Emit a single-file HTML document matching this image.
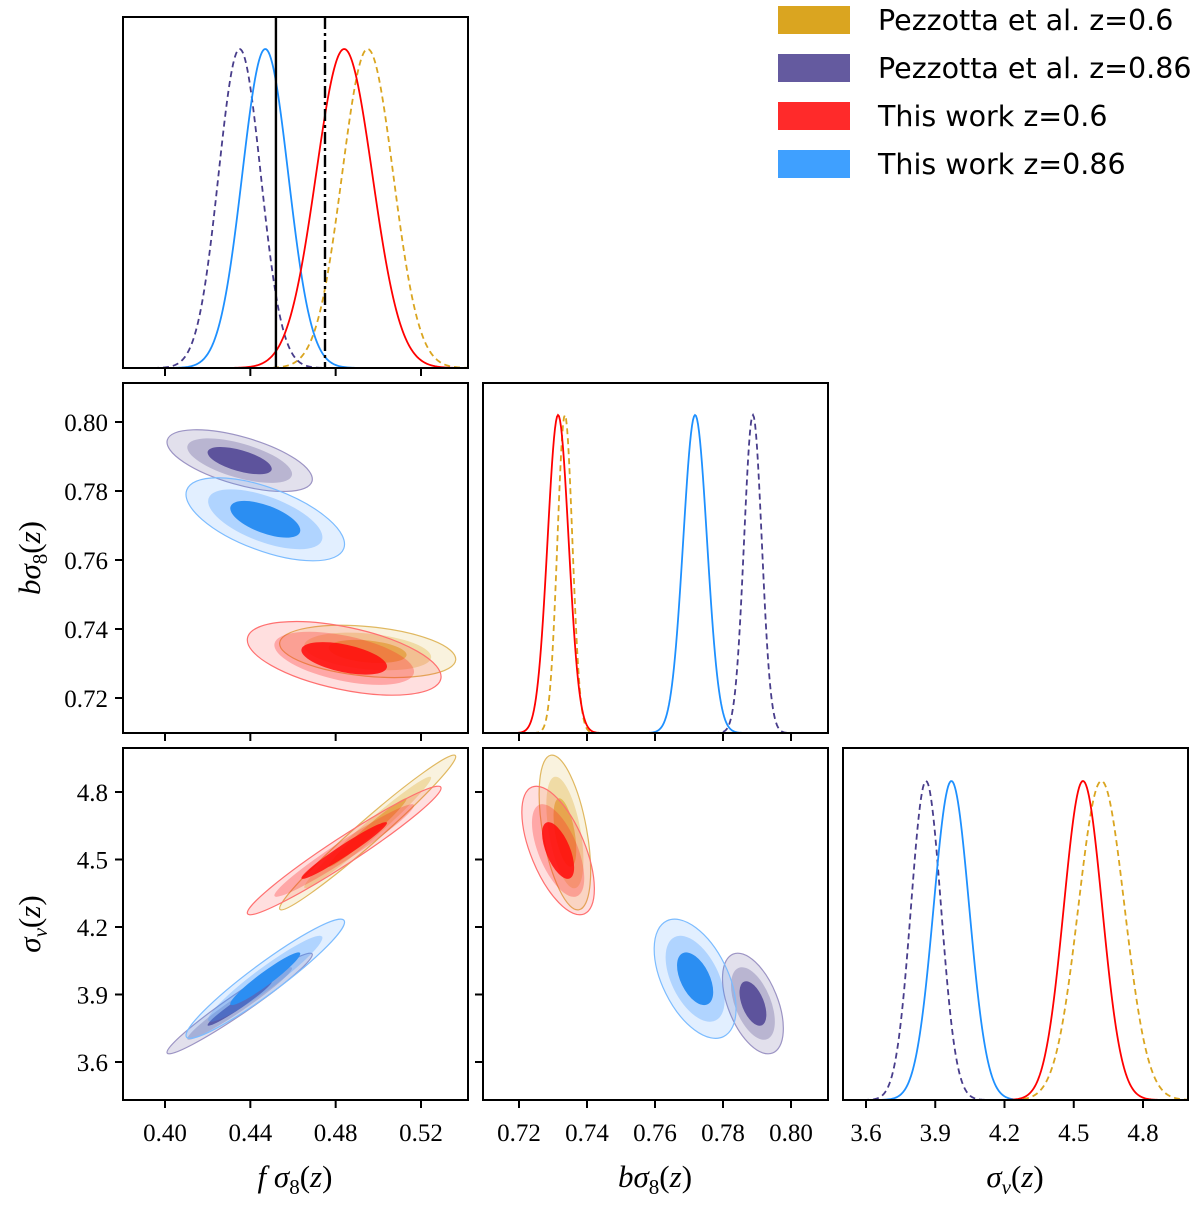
<!DOCTYPE html>
<html><head><meta charset="utf-8">
<style>
html,body{margin:0;padding:0;background:#fff;}
svg text{font-family:"Liberation Serif",serif;}
</style></head>
<body>
<svg id="fig" width="1200" height="1203" viewBox="0 0 1200 1203" xmlns="http://www.w3.org/2000/svg">
<defs>
<clipPath id="cTL"><rect x="123" y="17" width="345" height="351"/></clipPath>
<clipPath id="cML"><rect x="123" y="383" width="345" height="350"/></clipPath>
<clipPath id="cMM"><rect x="483" y="383" width="345" height="350"/></clipPath>
<clipPath id="cBL"><rect x="123" y="748" width="345" height="352"/></clipPath>
<clipPath id="cBM"><rect x="483" y="748" width="345" height="352"/></clipPath>
<clipPath id="cBR"><rect x="843" y="748" width="345" height="352"/></clipPath>
</defs>
<g id="marks"></g>
<g id="frames"></g>
<g id="legend">
  <rect x="778" y="6" width="72" height="28" fill="#DAA520"/>
  <text x="878" y="30" font-size="28.5" style="font-family:'DejaVu Sans',sans-serif">Pezzotta et al. z=0.6</text>
  <rect x="778" y="54" width="72" height="28" fill="#645a9f"/>
  <text x="878" y="78" font-size="28.5" style="font-family:'DejaVu Sans',sans-serif">Pezzotta et al. z=0.86</text>
  <rect x="778" y="102" width="72" height="28" fill="#ff2a2a"/>
  <text x="878" y="126" font-size="28.5" style="font-family:'DejaVu Sans',sans-serif">This work z=0.6</text>
  <rect x="778" y="150" width="72" height="28" fill="#3fa0ff"/>
  <text x="878" y="174" font-size="28.5" style="font-family:'DejaVu Sans',sans-serif">This work z=0.86</text>
</g>
</svg>
<script>
// ---- data ----
const seriesNames = ["pezzotta-z06","pezzotta-z086","this-work-z086","this-work-z06"];
const meanF  = [0.495, 0.435, 0.447, 0.484];
const meanB  = [0.7335, 0.7888, 0.7718, 0.7315];
const meanV  = [4.62, 3.86, 3.97, 4.54];
const sigF   = [0.012, 0.0099, 0.0108, 0.0132];
const sigB   = [0.0022, 0.0026, 0.0035, 0.0031];
const sigV   = [0.10, 0.065, 0.077, 0.083];
const rhoFB  = [-0.3, -0.6, -0.6, -0.5];
const rhoFV  = [0.98, 0.97, 0.95, 0.97];
const rhoBV  = [-0.5, -0.5, -0.5, -0.6];
const refLineSolid = 0.452;
const refLineDashDot = 0.475;
const ticksF = [0.40,0.44,0.48,0.52];
const ticksB = [0.72,0.74,0.76,0.78,0.80];
const ticksV = [3.6,3.9,4.2,4.5,4.8];

const lineColor = ["#DAA520","#483D8B","#1E90FF","#FF0000"];
const dashes = ["6,4","6,4",null,null];
const fills = [
  ["rgba(218,165,32,0.15)","rgba(218,165,32,0.3)","rgba(218,165,32,0.6)"],
  ["rgba(110,100,160,0.2)","rgba(110,100,160,0.35)","#5d539c"],
  ["rgba(60,150,255,0.15)","rgba(60,150,255,0.3)","#2b8ef2"],
  ["rgba(255,40,40,0.15)","rgba(255,40,40,0.3)","rgba(255,10,10,0.85)"]
];
const strokes = ["#e0b860","#9c94c4","#7cbcff","#ff7070"];

// ---- axes ----
const xF = v => 165 + (v-0.40)*(421-165)/0.12;
const xB = v => 519 + (v-0.72)*(791-519)/0.08;
const yB = v => 422 + (0.80-v)*(698-422)/0.08;
const xV = v => 866 + (v-3.6)*(1143-866)/1.2;
const yV = v => 792 + (4.8-v)*(1062-792)/1.2;

const NS="http://www.w3.org/2000/svg";
const marks=document.getElementById('marks');
const frames=document.getElementById('frames');
function mk(tag,attrs,parent){const e=document.createElementNS(NS,tag);for(const k in attrs)e.setAttribute(k,attrs[k]);(parent||marks).appendChild(e);return e;}

function inv(f,a,b){return px=>a+(px-f(a))*(b-a)/(f(b)-f(a));}
xF.inv=inv(xF,0.40,0.52); xB.inv=inv(xB,0.72,0.80); xV.inv=inv(xV,3.6,4.8);

function panel1D(clip,xs,means,sigs,x0,x1,yBase,yPeak,name){
  const g=mk('g',{'clip-path':'url(#'+clip+')'});
  
  
  [0,1,2,3].forEach(i=>{
    let d='';
    for(let px=x0;px<=x1;px+=1){
      const v = xs.inv(px);
      const y = yBase-(yBase-yPeak)*Math.exp(-0.5*Math.pow((v-means[i])/sigs[i],2));
      d+=(d?'L':'M')+px+','+y.toFixed(2);
    }
    const p=mk('path',{d:d,fill:'none',stroke:lineColor[i],'stroke-width':1.8},g);
    if(dashes[i])p.setAttribute('stroke-dasharray',dashes[i]);
    
    
  });
  return g;
}

const gTL=panel1D('cTL',xF,meanF,sigF,123,468,368,49,'fsigma8-pdf-panel');
const gMM=panel1D('cMM',xB,meanB,sigB,483,828,733,415,'bsigma8-pdf-panel');
const gBR=panel1D('cBR',xV,meanV,sigV,843,1188,1100,781,'sigmav-pdf-panel');

const ls=mk('line',{x1:xF(refLineSolid),x2:xF(refLineSolid),y1:17,y2:368,stroke:'#000','stroke-width':2.4},gTL);


const ld=mk('line',{x1:xF(refLineDashDot),x2:xF(refLineDashDot),y1:17,y2:368,stroke:'#000','stroke-width':2.4,'stroke-dasharray':'12,4,3,4'},gTL);



const levels=[3.44,2.48,1.52];
function panel2D(clip,xs,ys,mx,my,sx,sy,rho,name){
  const g=mk('g',{'clip-path':'url(#'+clip+')'});
  
  
  [0,1,2,3].forEach(i=>{
    const cx=xs(mx[i]), cy=ys(my[i]);
    const spx=Math.abs(xs(mx[i]+sx[i])-cx), spy=Math.abs(ys(my[i]+sy[i])-cy);
    const r=-rho[i];
    const a=spx*spx, c=spy*spy, b=r*spx*spy;
    const tr=(a+c)/2, df=Math.sqrt(((a-c)/2)**2+b*b);
    const l1=tr+df, l2=tr-df;
    const angle = (b===0)?(a>=c?0:90):Math.atan2(l1-a,b)*180/Math.PI;
    levels.forEach((k,j)=>{
      const e=mk('ellipse',{cx:0,cy:0,rx:k*Math.sqrt(l1),ry:k*Math.sqrt(Math.max(l2,0.01)),
        transform:'translate('+cx+','+cy+') rotate('+angle+')',fill:fills[i][j],
        stroke:j===0?strokes[i]:'none','stroke-width':1.2},g);
      
      
    });
  });
}
panel2D('cML',xF,yB,meanF,meanB,sigF,sigB,rhoFB,'fsigma8-bsigma8-panel');
panel2D('cBL',xF,yV,meanF,meanV,sigF,sigV,rhoFV,'fsigma8-sigmav-panel');
panel2D('cBM',xB,yV,meanB,meanV,sigB,sigV,rhoBV,'bsigma8-sigmav-panel');

const panels=[
  {n:'panel-fsigma8',x:123,y:17,w:345,h:351,xt:ticksF,xs:xF,xl:false},
  {n:'panel-fsigma8-bsigma8',x:123,y:383,w:345,h:350,xt:ticksF,xs:xF,xl:false,yt:ticksB,ys:yB,yf:v=>v.toFixed(2)},
  {n:'panel-bsigma8',x:483,y:383,w:345,h:350,xt:ticksB,xs:xB,xl:false},
  {n:'panel-fsigma8-sigmav',x:123,y:748,w:345,h:352,xt:ticksF,xs:xF,xl:true,xf:v=>v.toFixed(2),yt:ticksV,ys:yV,yf:v=>v.toFixed(1)},
  {n:'panel-bsigma8-sigmav',x:483,y:748,w:345,h:352,xt:ticksB,xs:xB,xl:true,xf:v=>v.toFixed(2),yt:ticksV,ys:yV,yl:false},
  {n:'panel-sigmav',x:843,y:748,w:345,h:352,xt:ticksV,xs:xV,xl:true,xf:v=>v.toFixed(1)}
];
panels.forEach(p=>{
  const r=mk('rect',{x:p.x,y:p.y,width:p.w,height:p.h,fill:'none',stroke:'#000','stroke-width':2},frames);
  
  
  p.xt.forEach(t=>{
    const x=p.xs(t);
    mk('line',{x1:x,x2:x,y1:p.y+p.h,y2:p.y+p.h+8,stroke:'#000','stroke-width':2},frames);
    if(p.xl){
      const tx=mk('text',{x:x,y:p.y+p.h+41,'font-size':25,'text-anchor':'middle'},frames);
      tx.textContent=p.xf(t);
      
      
    }
  });
  if(p.yt){
    p.yt.forEach(t=>{
      const y=p.ys(t);
      mk('line',{x1:p.x-8,x2:p.x,y1:y,y2:y,stroke:'#000','stroke-width':2},frames);
      if(p.yf && p.yl!==false){
        const tx=mk('text',{x:p.x-15,y:y+9,'font-size':25,'text-anchor':'end'},frames);
        tx.textContent=p.yf(t);
        
        
      }
    });
  }
});
function title(x,y,html,rot,name){
  const t=mk('text',{x:x,y:y,'font-size':31,'text-anchor':'middle',transform:rot?'rotate(-90 '+x+' '+y+')':''},frames);
  t.innerHTML=html;
  
  
}
title(295,1187,'<tspan font-style="italic">f</tspan> <tspan font-style="italic">σ</tspan><tspan font-size="21" dy="7">8</tspan><tspan dy="-7">(</tspan><tspan font-style="italic">z</tspan>)',false,'x-axis-title-fsigma8');
title(655,1187,'<tspan font-style="italic">bσ</tspan><tspan font-size="21" dy="7">8</tspan><tspan dy="-7">(</tspan><tspan font-style="italic">z</tspan>)',false,'x-axis-title-bsigma8');
title(1015,1187,'<tspan font-style="italic">σ</tspan><tspan font-size="21" font-style="italic" dy="7">v</tspan><tspan dy="-7">(</tspan><tspan font-style="italic">z</tspan>)',false,'x-axis-title-sigmav');
title(40,558,'<tspan font-style="italic">bσ</tspan><tspan font-size="21" dy="7">8</tspan><tspan dy="-7">(</tspan><tspan font-style="italic">z</tspan>)',true,'y-axis-title-bsigma8');
title(40,924,'<tspan font-style="italic">σ</tspan><tspan font-size="21" font-style="italic" dy="7">v</tspan><tspan dy="-7">(</tspan><tspan font-style="italic">z</tspan>)',true,'y-axis-title-sigmav');
</script>
</body></html>
